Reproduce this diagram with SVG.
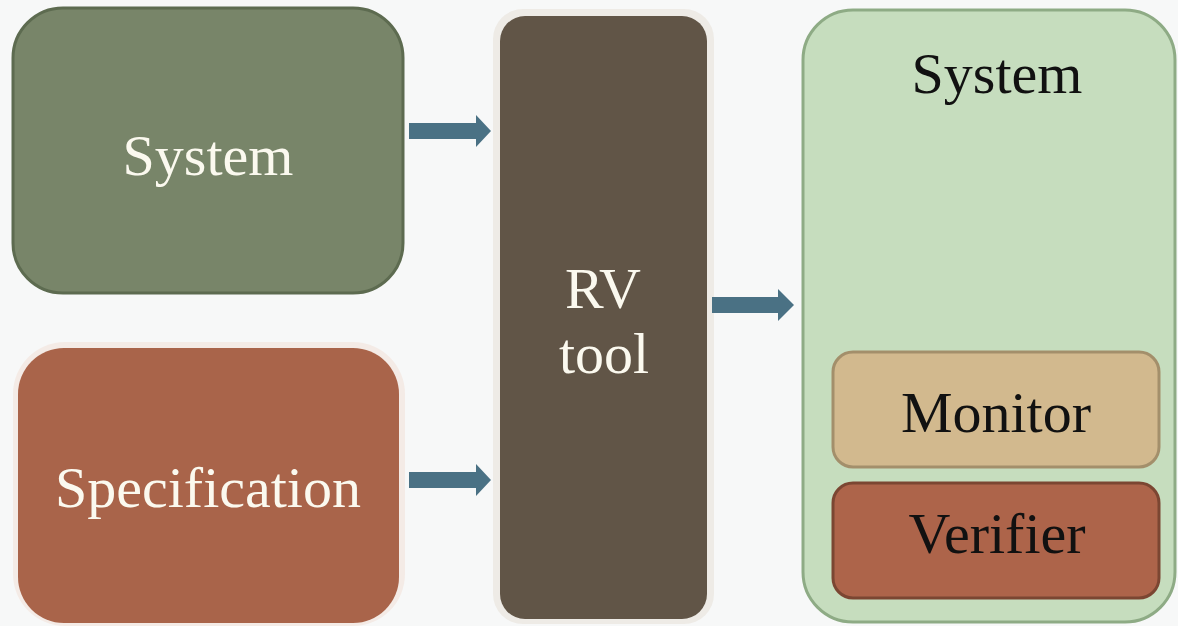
<svg xmlns="http://www.w3.org/2000/svg" width="1178" height="626" viewBox="0 0 1178 626">
  <style>
    .lbl { font-family: "Liberation Serif", "Times New Roman", serif; font-size: 58px; text-anchor: middle; }
    .light { fill: #fbf9ef; }
    .dark { fill: #111111; }
    .arrow { fill: #4a7184; }
  </style>
  <rect x="0" y="0" width="1178" height="626" fill="#f7f8f8"/>

  <g id="node-system-input">
    <rect x="13" y="8" width="390" height="285" rx="50" fill="#788569" stroke="#5d6b50" stroke-width="3"/>
    <text class="lbl light" x="208" y="175">System</text>
  </g>

  <g id="node-specification">
    <rect x="13" y="342" width="392" height="284" rx="52" fill="#f4ebe6"/>
    <rect x="18" y="348" width="381" height="275" rx="46" fill="#a9644a"/>
    <text class="lbl light" x="208" y="507">Specification</text>
  </g>

  <g id="node-rv-tool">
    <rect x="493" y="9" width="221" height="615" rx="30" fill="#eeebe6"/>
    <rect x="500" y="16" width="207" height="603" rx="25" fill="#615547"/>
    <text class="lbl light" x="603" y="308">RV</text>
    <text class="lbl light" x="604" y="373">tool</text>
  </g>

  <g id="node-system-output">
    <rect x="803" y="10" width="372" height="612" rx="50" fill="#c6ddbe" stroke="#8eab85" stroke-width="3"/>
    <text class="lbl dark" x="997" y="93">System</text>
  </g>

  <g id="node-monitor">
    <rect x="833" y="352" width="326" height="115" rx="20" fill="#d2b98e" stroke="#a38f6b" stroke-width="3"/>
    <text class="lbl dark" x="996" y="432">Monitor</text>
  </g>

  <g id="node-verifier">
    <rect x="833" y="483" width="326" height="115" rx="20" fill="#ad644a" stroke="#7b4632" stroke-width="3"/>
    <text class="lbl dark" x="997" y="553">Verifier</text>
  </g>

  <g id="connectors">
    <polygon class="arrow" points="409,123 476,123 476,115 491,131 476,147 476,139 409,139"/>
    <polygon class="arrow" points="409,472 476,472 476,464 491,480 476,496 476,488 409,488"/>
    <polygon class="arrow" points="712,297 778,297 778,289 794,305 778,321 778,313 712,313"/>
  </g>
</svg>
